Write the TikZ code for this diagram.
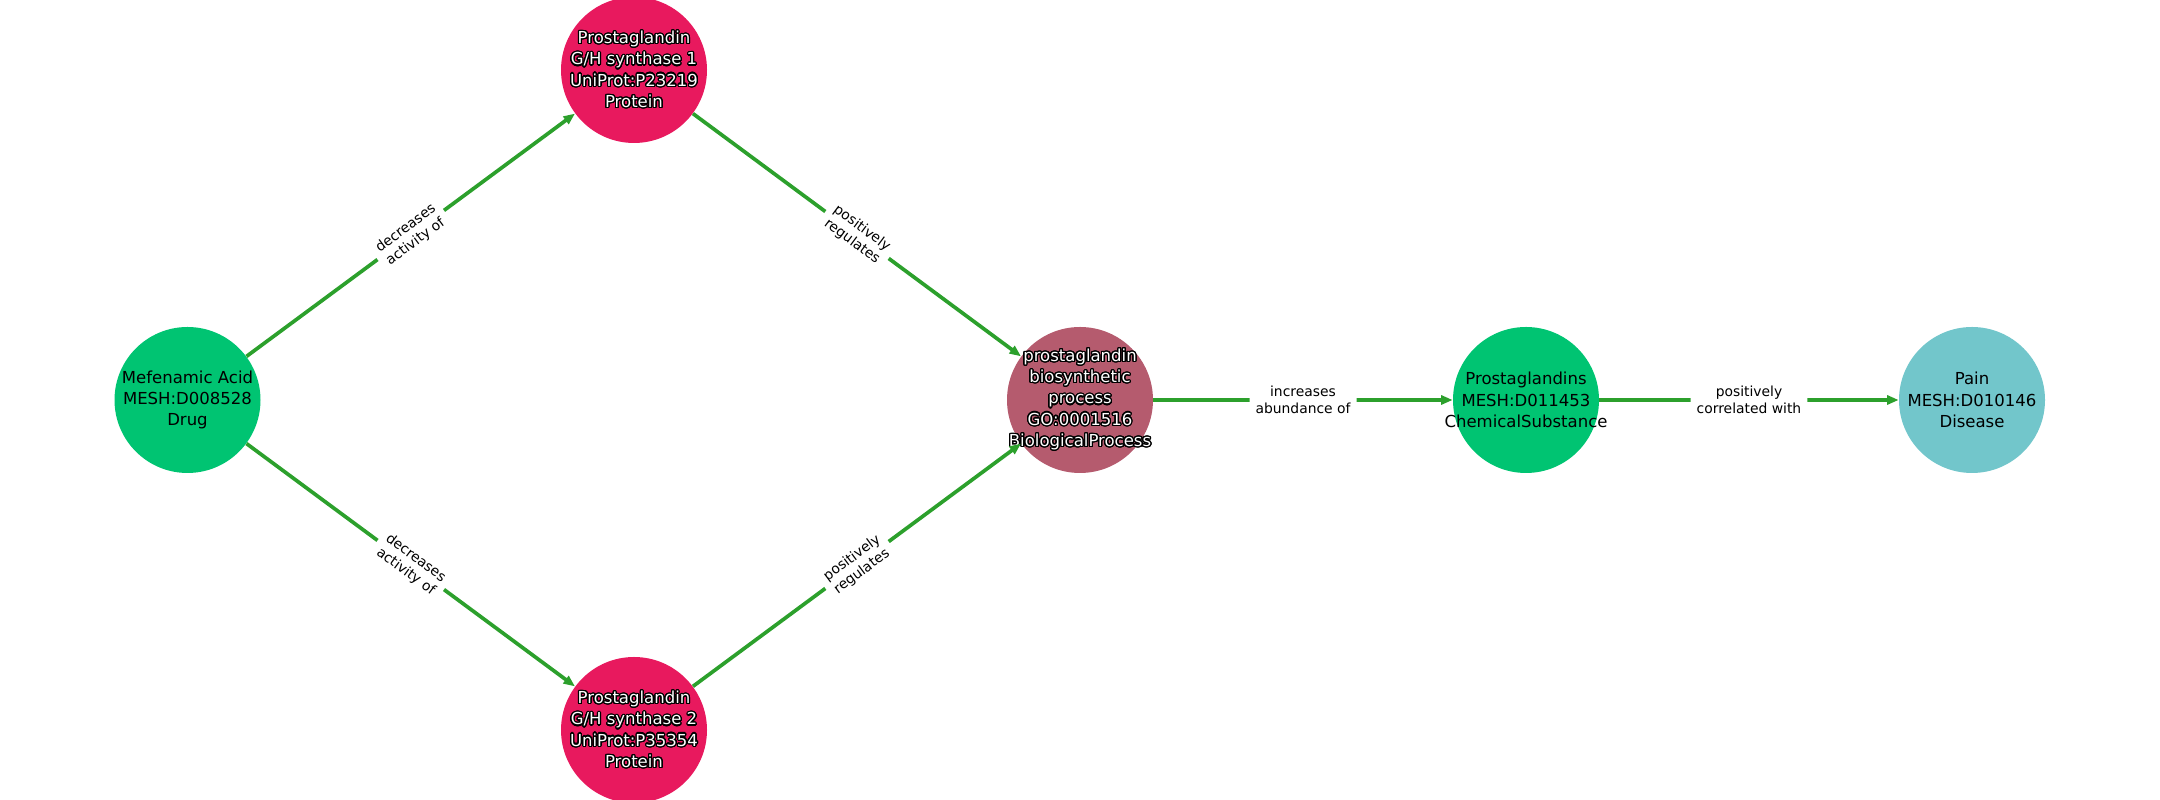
\documentclass[tikz,border=0pt]{standalone}
\usepackage{fontspec}
\setmainfont{DejaVu Sans}
\usepackage[copies]{contour}
\usetikzlibrary{arrows.meta}
\contourlength{0.7pt}
\contournumber{24}
\definecolor{drugc}{HTML}{00C472}
\definecolor{protc}{HTML}{E8195E}
\definecolor{procc}{HTML}{B55B6E}
\definecolor{painc}{HTML}{72C6CB}
\definecolor{edgec}{HTML}{2CA02C}
\newcommand{\wl}[1]{\contour{black}{#1}}

\begin{document}
\begin{tikzpicture}[
		ent/.style={circle,minimum size=2.92cm,inner sep=0pt},
		txt/.style={align=center,inner sep=0pt,font=\fontsize{9.4}{12.1}\selectfont},
		wtxt/.style={txt,text=white},
		edge/.style={-{Triangle[length=2.3mm,width=1.8mm]},line width=2.1pt,draw=edgec},
		rel/.style={fill=white,inner sep=1.2mm,rounded corners=1mm,align=center,font=\fontsize{7.9}{9.4}\selectfont,sloped}
	]
		\useasboundingbox (0,0) rectangle (43.2,16);

		\node[ent,fill=drugc,label={[txt]center:Mefenamic Acid\\MESH:D008528\\Drug}] (mef) at (3.75,8) {};
		\node[ent,fill=protc,label={[wtxt]center:\wl{Prostaglandin}\\\wl{G/H synthase 1}\\\wl{UniProt:P23219}\\\wl{Protein}}] (pghs1) at (12.68,14.6) {};
		\node[ent,fill=protc,label={[wtxt]center:\wl{Prostaglandin}\\\wl{G/H synthase 2}\\\wl{UniProt:P35354}\\\wl{Protein}}] (pghs2) at (12.68,1.4) {};
		\node[ent,fill=procc,label={[wtxt]center:\wl{prostaglandin}\\\wl{biosynthetic}\\\wl{process}\\\wl{GO:0001516}\\\wl{BiologicalProcess}}] (bio) at (21.6,8) {};
		\node[ent,fill=drugc,label={[txt]center:Prostaglandins\\MESH:D011453\\ChemicalSubstance}] (pgs) at (30.52,8) {};
		\node[ent,fill=painc,label={[txt]center:Pain\\MESH:D010146\\Disease}] (pain) at (39.44,8) {};

		\draw[edge] (mef) -- node[rel]{decreases\\activity of} (pghs1);
		\draw[edge] (mef) -- node[rel]{decreases\\activity of} (pghs2);
		\draw[edge] (pghs1) -- node[rel]{positively\\regulates} (bio);
		\draw[edge] (pghs2) -- node[rel]{positively\\regulates} (bio);
		\draw[edge] (bio) -- node[rel]{increases\\abundance of} (pgs);
		\draw[edge] (pgs) -- node[rel]{positively\\correlated with} (pain);
	\end{tikzpicture}
\end{document}
